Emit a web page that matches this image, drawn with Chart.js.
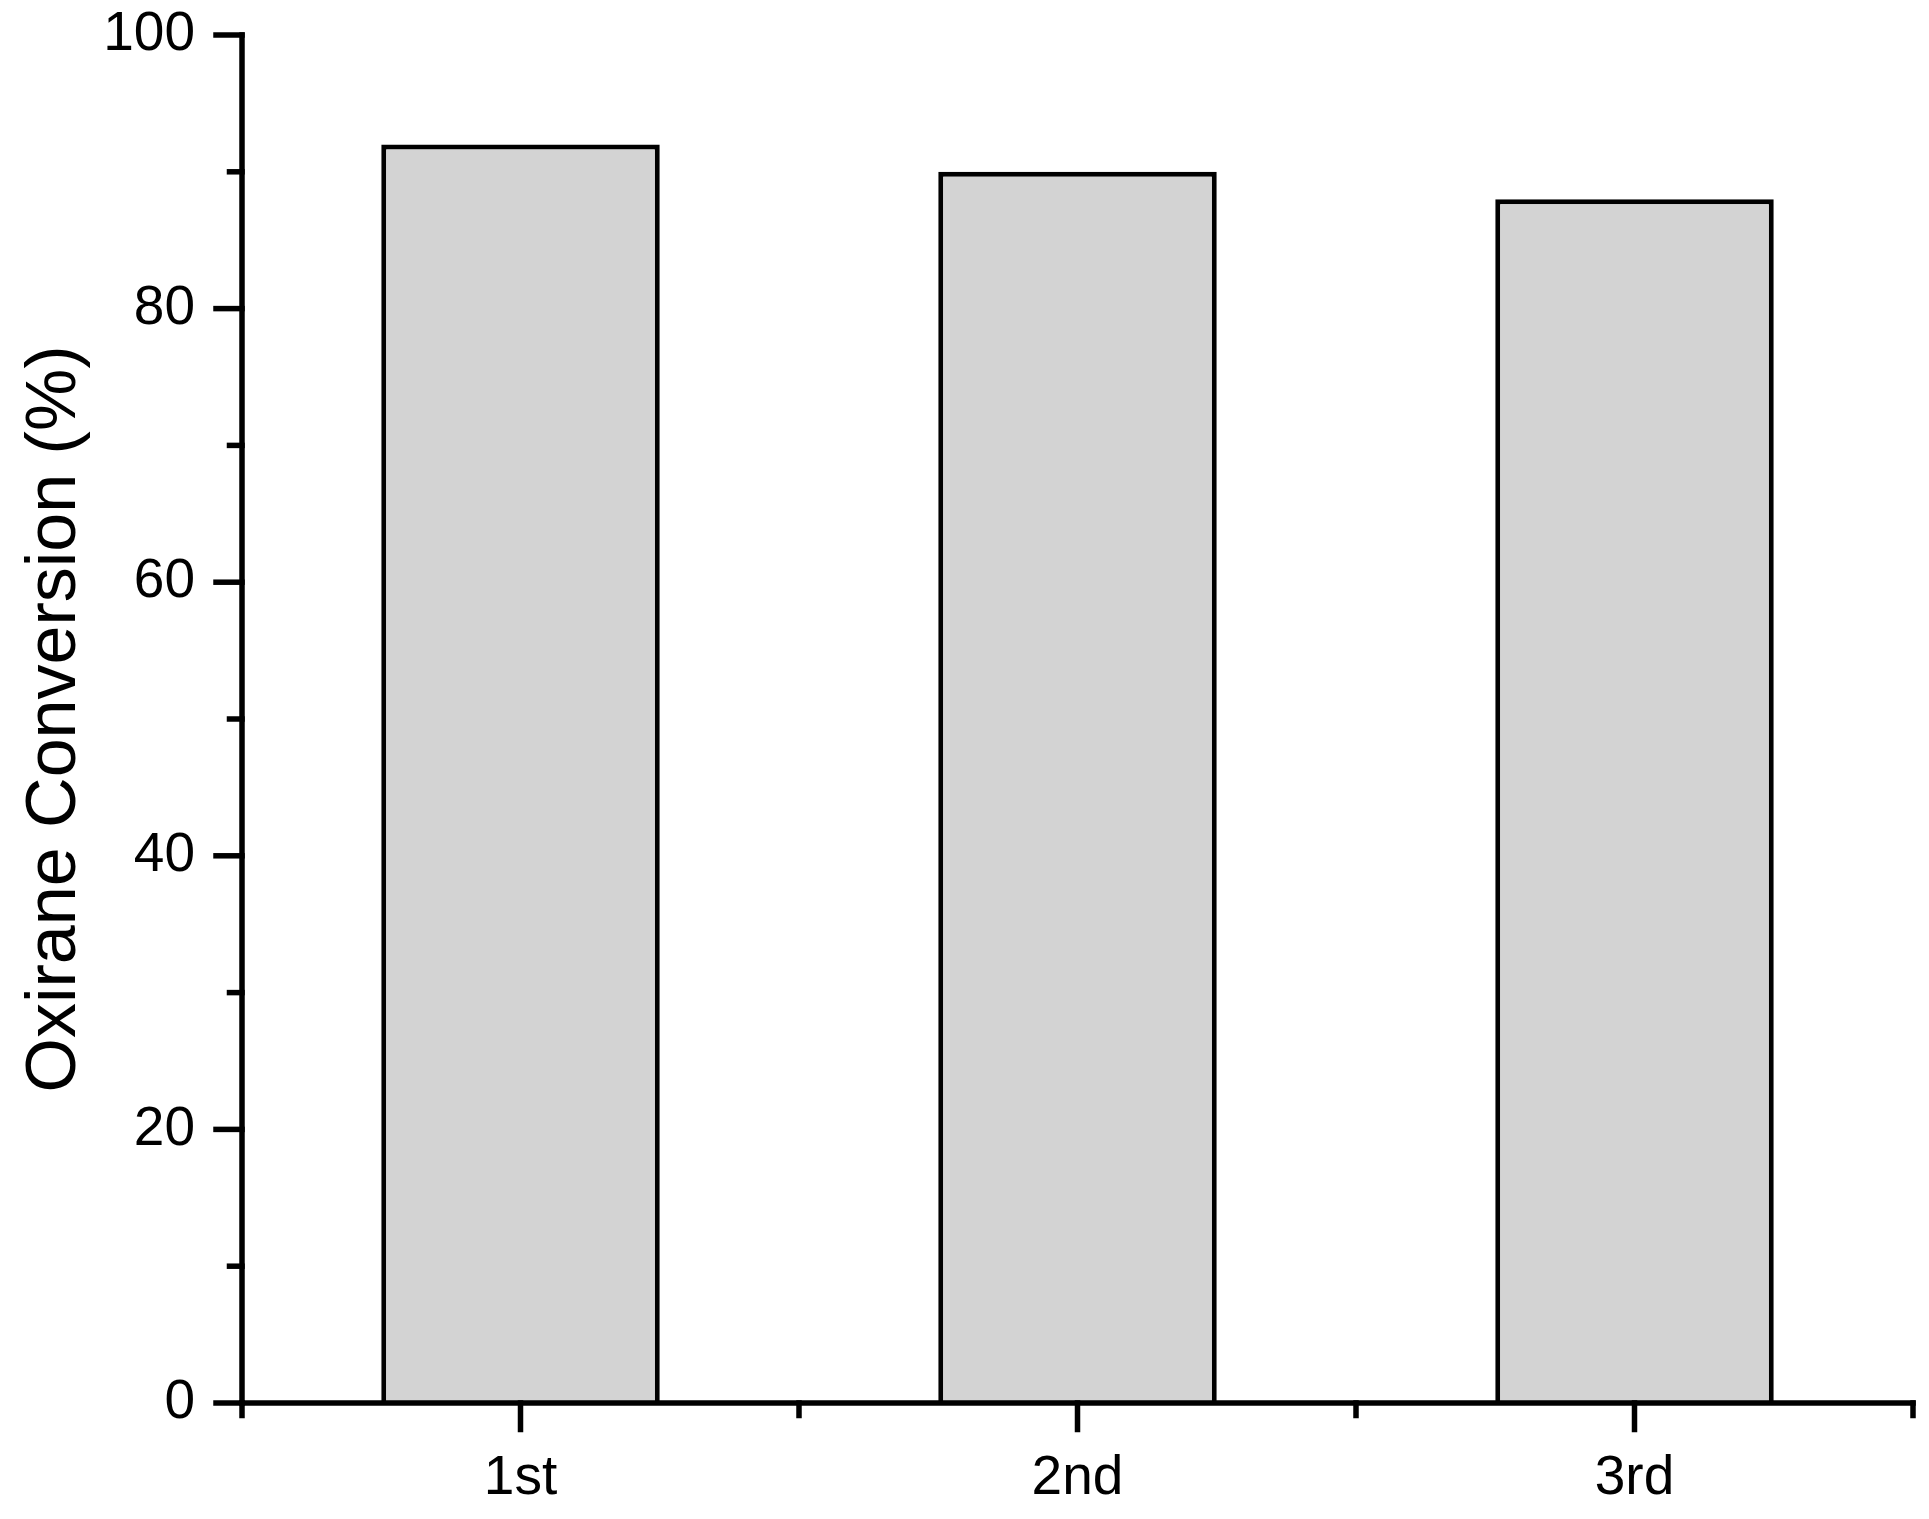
<!DOCTYPE html>
<html>
<head>
<meta charset="utf-8">
<script src="https://cdn.jsdelivr.net/npm/chart.js@4/dist/chart.umd.min.js"></script>
<style>
    html, body { margin: 0; padding: 0; background: #fff; }
    #wrap { width: 1929px; height: 1519px; }
</style>
</head>
<body>
<div id="wrap"><canvas id="conversionChart"></canvas></div>
<script>
const runs = ['1st', '2nd', '3rd'];
const conversion = [92, 90, 88];
const yTickValues = [0, 10, 20, 30, 40, 50, 60, 70, 80, 90, 100];
const yLabelValues = [0, 20, 40, 60, 80, 100];

const FONT = "'Liberation Sans', Arial, sans-serif";

// Origin-style axes: thick lines, long major ticks, short minor ticks, all outward
const originAxes = {
    id: 'originAxes',
    afterDatasetsDraw(chart) {
        const { ctx, scales: { x, y } } = chart;
        const left = x.getPixelForValue(-0.5);
        const right = x.getPixelForValue(runs.length - 0.5);
        const bottom = y.getPixelForValue(0);
        const top = y.getPixelForValue(100);

        ctx.save();
        ctx.strokeStyle = '#000';
        ctx.lineWidth = 5.5;
        ctx.lineCap = 'square';

        function line(x1, y1, x2, y2) {
            ctx.beginPath();
            ctx.moveTo(x1, y1);
            ctx.lineTo(x2, y2);
            ctx.stroke();
        }

        line(left, top, left, bottom);
        line(left, bottom, right, bottom);

        yTickValues.forEach(v => {
            const py = y.getPixelForValue(v);
            const len = yLabelValues.includes(v) ? 26 : 12.5;
            line(left, py, left - len, py);
        });

        runs.forEach((r, i) => {
            const px = x.getPixelForValue(i);
            line(px, bottom, px, bottom + 26.5);
        });
        for (let i = 0; i <= runs.length; i++) {
            const px = x.getPixelForValue(i - 0.5);
            line(px, bottom, px, bottom + 12.5);
        }
        ctx.restore();
    }
};

const ctx = document.getElementById('conversionChart').getContext('2d');
new Chart(ctx, {
    type: 'bar',
    data: {
        labels: runs,
        datasets: [{
            data: conversion,
            backgroundColor: '#d3d3d3',
            borderColor: '#000',
            borderWidth: 5,
            barPercentage: 0.5,
            categoryPercentage: 1
        }]
    },
    options: {
        responsive: true,
        maintainAspectRatio: false,
        animation: false,
        devicePixelRatio: 1,
        layout: { padding: { top: 35, right: 16, left: 0, bottom: 0 } },
        plugins: {
            legend: { display: false },
            tooltip: { enabled: false }
        },
        scales: {
            x: {
                type: 'category',
                offset: true,
                grid: { display: false, drawTicks: false },
                border: { display: false },
                ticks: {
                    color: '#000',
                    font: { family: FONT, size: 55 },
                    padding: 43,
                    maxRotation: 0
                },
                afterFit(scale) {
                    scale.height = 116;
                    scale.paddingLeft = 0;
                    scale.paddingRight = 0;
                }
            },
            y: {
                min: 0,
                max: 100,
                grid: { display: false, drawTicks: false },
                border: { display: false },
                afterBuildTicks(scale) {
                    scale.ticks = yTickValues.map(v => ({ value: v }));
                },
                ticks: {
                    color: '#000',
                    font: { family: FONT, size: 55 },
                    padding: 47,
                    callback: v => yLabelValues.includes(v) ? String(v) : ''
                },
                title: {
                    display: true,
                    text: 'Oxirane Conversion (%)',
                    color: '#000',
                    font: { family: FONT, size: 70 },
                    padding: { top: 14, bottom: 0 }
                },
                afterFit(scale) {
                    scale.width = 242;
                    scale.paddingTop = 0;
                    scale.paddingBottom = 0;
                }
            }
        }
    },
    plugins: [originAxes]
});
</script>
</body>
</html>
